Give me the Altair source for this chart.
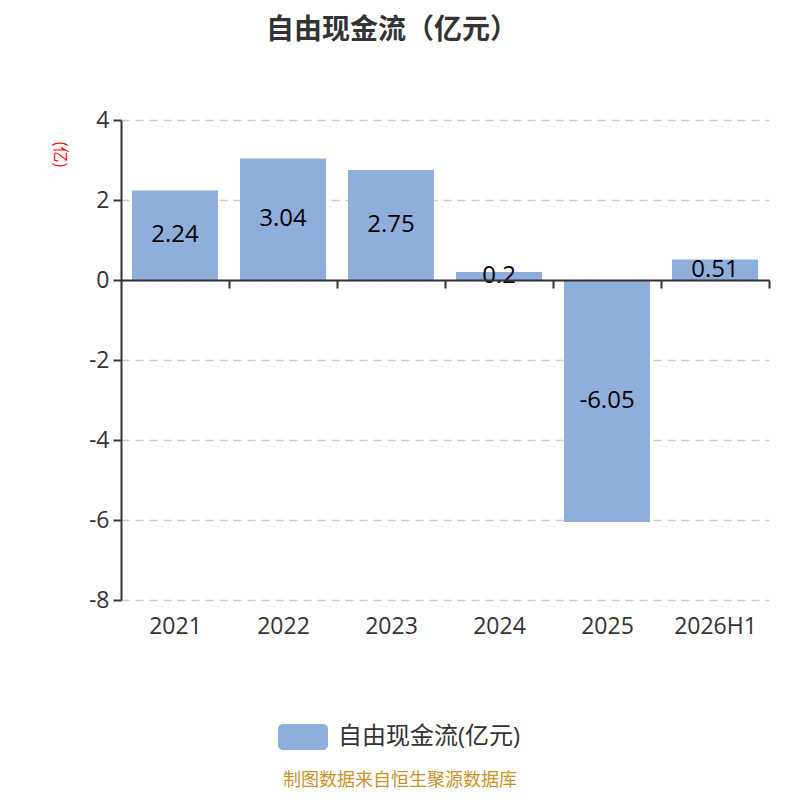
import altair as alt
import pandas as pd

categories = ["2021", "2022", "2023", "2024", "2025", "2026H1"]
values = [2.24, 3.04, 2.75, 0.2, -6.05, 0.51]
series_name = "自由现金流(亿元)"
y_ticks = [-8, -6, -4, -2, 0, 2, 4]
title_text = "自由现金流（亿元）"
y_title = "(亿)"
footer_text = "制图数据来自恒生聚源数据库"

FONT = "'Open Sans', 'Noto Sans CJK SC', sans-serif"
CJK = "'Noto Sans CJK SC', sans-serif"

df = pd.DataFrame({"year": categories, "value": values, "series": [series_name] * len(categories)})
foot_df = pd.DataFrame({"t": [footer_text]})

x_enc = alt.X(
    "year:N",
    sort=categories,
    scale=alt.Scale(paddingInner=0.2, paddingOuter=0.1),
    axis=alt.Axis(
        title=None,
        labelAngle=0,
        labelFontSize=23,
        labelColor="#333333",
        labelFont=FONT,
        offset=-320,
        labelPadding=327,
        bandPosition=1,
        tickOffset=10.8,
        labelOffset=-10.8,
        tickSize=8,
        tickColor="#333333",
        tickWidth=2,
        domainColor="#333333",
        domainWidth=2,
        zindex=2,
    ),
)

y_enc = alt.Y(
    "value:Q",
    scale=alt.Scale(domain=[-8, 4], nice=False, zero=False),
    axis=alt.Axis(
        title=y_title,
        titleColor="red",
        titleFontSize=16,
        titleFontWeight="normal",
        titleFont=CJK,
        titleAngle=90,
        titleX=-62,
        titleY=34,
        titleAlign="center",
        titleBaseline="middle",
        values=y_ticks,
        labelExpr="datum.value + ''",
        labelFontSize=23,
        labelColor="#333333",
        labelFont=FONT,
        labelPadding=4,
        tickSize=8,
        tickColor="#333333",
        tickWidth=2,
        domainColor="#333333",
        domainWidth=2,
        grid=True,
        gridDash=[8, 6],
        gridColor="#cccccc",
        gridWidth=1.5,
    ),
)

legend_path = ("M-0.8,-0.52H0.8A0.2,0.2,0,0,1,1,-0.32V0.32A0.2,0.2,0,0,1,0.8,0.52"
               "H-0.8A0.2,0.2,0,0,1,-1,0.32V-0.32A0.2,0.2,0,0,1,-0.8,-0.52Z")

bars = alt.Chart(df).mark_bar(size=86).encode(
    x=x_enc,
    y=y_enc,
    color=alt.Color(
        "series:N",
        scale=alt.Scale(range=["#8eaedb"]),
        legend=alt.Legend(
            title=None,
            orient="none",
            legendX=157,
            legendY=592,
            symbolType=legend_path,
            symbolSize=2500,
            symbolStrokeWidth=0,
            symbolOpacity=1,
            labelFontSize=24,
            labelColor="#333333",
            labelFont=FONT,
            labelOffset=10,
            labelLimit=400,
        ),
    ),
)

labels = alt.Chart(df).transform_calculate(
    mid="datum.value / 2", lab="toString(datum.value)"
).mark_text(
    fontSize=24, color="#000000", font=FONT, baseline="middle", align="center"
).encode(
    x=alt.X("year:N", sort=categories),
    y=alt.Y("mid:Q"),
    text=alt.Text("lab:N"),
)

footer = alt.Chart(foot_df).mark_text(
    fontSize=18, color="#c8922a", font=CJK, baseline="middle", align="center"
).encode(
    x=alt.value(279),
    y=alt.value(661),
    text="t:N",
)

chart = alt.layer(bars, labels, footer).properties(
    width=648,
    height=480,
    background="white",
    title=alt.TitleParams(
        title_text,
        anchor="middle",
        fontSize=28,
        fontWeight="bold",
        color="#333333",
        font=CJK,
        dx=-53,
        offset=64,
    ),
    autosize=alt.AutoSizeParams(type="none"),
    padding={"left": 113, "top": 112, "right": 15, "bottom": 191},
).configure_view(stroke=None)

chart.save("out.html", embed_options={"renderer": "svg", "actions": False})
